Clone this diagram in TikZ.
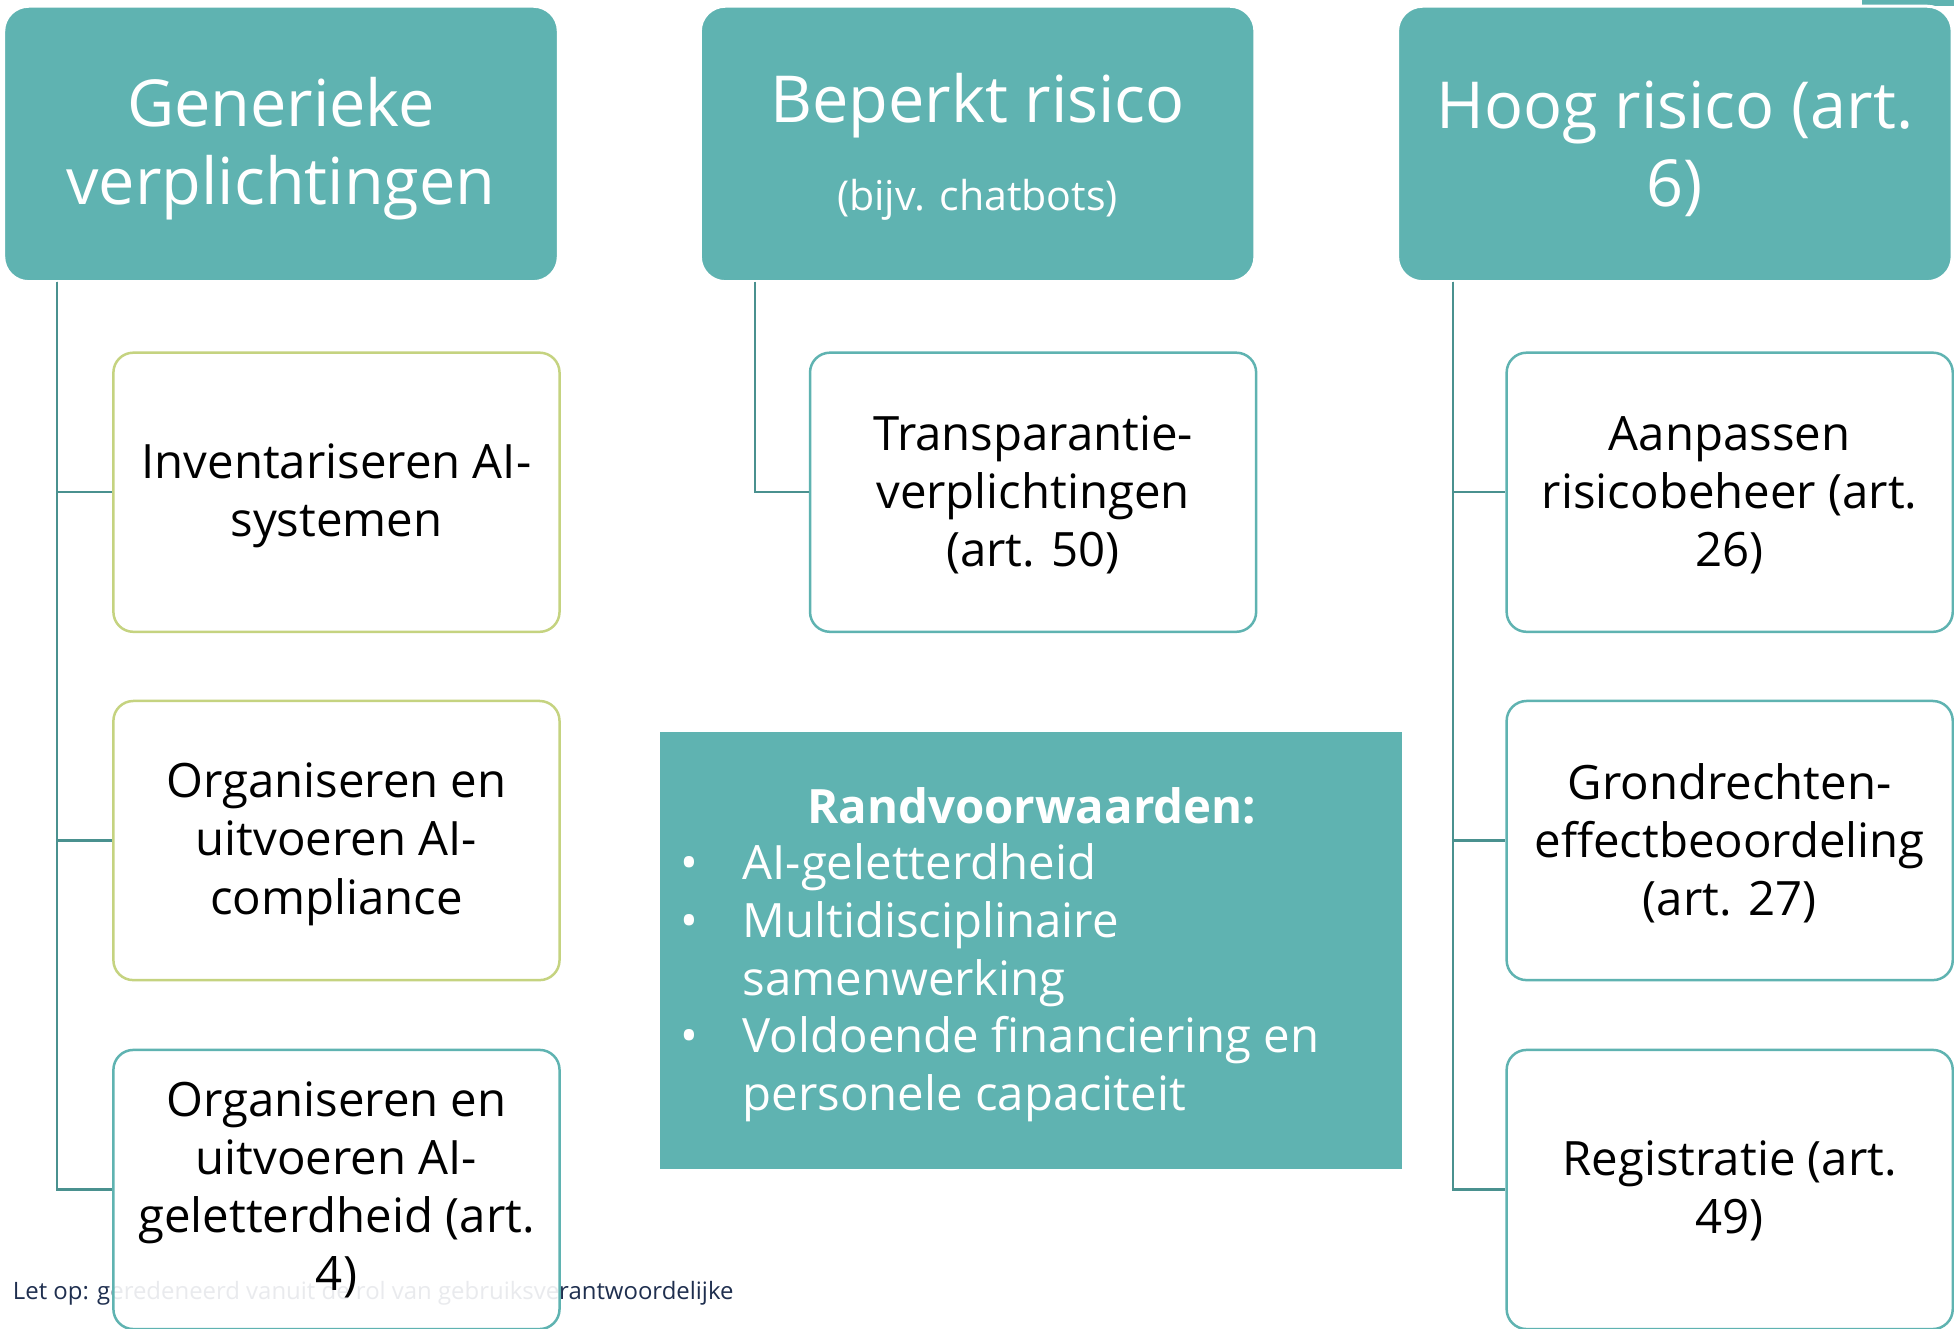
\documentclass[tikz,border=0pt]{standalone}
\usepackage{fontspec}
\setmainfont{Open Sans}
\definecolor{teal1}{HTML}{5FB3B1}
\definecolor{olive1}{HTML}{C5D380}
\definecolor{conn1}{HTML}{4A918F}
\definecolor{navy1}{HTML}{1F2F4F}
\newcommand\mytopstrut[1]{\rule{0pt}{#1}}
\begin{document}
\begin{tikzpicture}[x=0.5pt,y=-0.5pt,
  hdr/.style={draw=white, line width=1.2pt, fill=teal1, rounded corners=10pt,
    minimum width=222.5pt, minimum height=110.5pt, inner sep=0pt, text=white,
    align=center, font=\fontsize{26}{31.35}\selectfont},
  sub/.style={draw=teal1, line width=1pt, fill=white, rounded corners=8pt,
    minimum width=179pt, minimum height=112pt, inner sep=0pt, align=center,
    font=\fontsize{19}{23.3}\selectfont},
  subolive/.style={sub, draw=olive1},
  conn/.style={draw=conn1, line width=0.9pt}]
\useasboundingbox (0,0) rectangle (1568,1066);
\fill[white] (0,0) rectangle (1568,1066);
\fill[teal1] (1494,0) rectangle (1568,5);
% footnote (behind the last box)
\node[anchor=base west, inner sep=0pt, text=navy1, font=\fontsize{9.6}{11}\selectfont] (note) at (10,1042.5)
  {Let op: geredeneerd vanuit de rol van gebruiksverantwoordelijke};
% headers
\node[hdr] (h1) at (225.5,115.5) {\mytopstrut{0.9em}Generieke\\verplichtingen};
\node[hdr] (h2) at (784.5,115.5) {\mytopstrut{0.84em}Beperkt risico\\[4pt]{\fontsize{16.5}{20}\selectfont (bijv. chatbots)}};
\node[hdr] (h3) at (1344,115.5) {\mytopstrut{0.88em}Hoog risico (art.\\6)};
% children
\node[subolive] (c11) at (270,395) {\mytopstrut{0.89em}Inventariseren AI-\\systemen};
\node[subolive] (c12) at (270,674.5) {\mytopstrut{0.89em}Organiseren en\\uitvoeren AI-\\compliance};
\node[sub, fill opacity=0.9, text opacity=1] (c13) at (270,954.5) {Organiseren en\\uitvoeren AI-\\geletterdheid (art.\\4)};
\node[sub] (c21) at (829,395) {\mytopstrut{0.86em}Transparantie-\\verplichtingen\\(art. 50)};
\node[sub] (c31) at (1388,395) {\mytopstrut{0.86em}Aanpassen\\risicobeheer (art.\\26)};
\node[sub] (c32) at (1388,674.5) {\mytopstrut{0.86em}Grondrechten-\\effectbeoordeling\\(art. 27)};
\node[sub] (c33) at (1388,954.5) {\mytopstrut{0.8em}Registratie (art.\\49)};
% conditions box
\node[fill=teal1, draw=none, minimum width=297.5pt, minimum height=175.5pt, inner sep=0pt] (rb) at (827.5,762.5) {};
\node[anchor=base, inner sep=0pt, text=white, font=\fontsize{19}{23.2}\selectfont\bfseries] (rt) at (828,660.5) {Randvoorwaarden:};
\node[anchor=base west, inner sep=0pt, text=white] (rl) at (546,706)
  {\parbox[t]{290pt}{\raggedright\fontsize{19}{23.15}\selectfont
   \makebox[24.75pt][l]{•}AI-geletterdheid\\
   \makebox[24.75pt][l]{•}Multidisciplinaire\\
   \hspace*{24.75pt}samenwerking\\
   \makebox[24.75pt][l]{•}Voldoende financiering en\\
   \hspace*{24.75pt}personele capaciteit}};
% connectors
\coordinate (t1) at (46,226);
\coordinate (t2) at (606,226);
\coordinate (t3) at (1166,226);
\draw[conn] (t1) |- (c11.west);
\draw[conn] (t1) |- (c12.west);
\draw[conn] (t1) |- (c13.west);
\draw[conn] (t2) |- (c21.west);
\draw[conn] (t3) |- (c31.west);
\draw[conn] (t3) |- (c32.west);
\draw[conn] (t3) |- (c33.west);
\end{tikzpicture}
\end{document}
